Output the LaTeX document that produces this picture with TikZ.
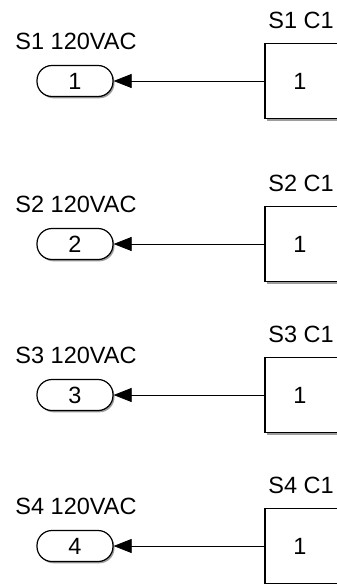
\documentclass[tikz,border=0pt]{standalone}
\usepackage{fontspec}
\setmainfont{Liberation Sans}
\usetikzlibrary{arrows.meta,shadows}
\begin{document}
\begin{tikzpicture}[x=1pt,y=1pt,
  font=\fontsize{23.5}{28}\selectfont,
  portpill/.style={draw=black, line width=1.2pt, fill=white, rounded corners=15pt,
    minimum width=76pt, minimum height=31pt, inner sep=0pt,
    drop shadow={shadow xshift=1.5pt, shadow yshift=-1.8pt, fill=black!55, opacity=0.7}},
  srcbox/.style={draw=black, line width=1.6pt, fill=white,
    minimum width=76pt, minimum height=75pt, inner sep=0pt,
    drop shadow={shadow xshift=1.5pt, shadow yshift=-2pt, fill=black!55, opacity=0.7}},
  wire/.style={line width=0.7pt, -{Triangle[length=18pt,width=14pt]}},
  lbl/.style={inner sep=0pt, anchor=center}]
\useasboundingbox (0,0) rectangle (337,-584);
\clip (0,0) rectangle (337,-584);
\foreach \i/\y in {1/81, 2/244, 3/395, 4/546}{
  % output port pill with its caption
  \node[portpill] (out\i) at (75,-\y) {\i};
  \node[lbl] (outlbl\i) at (76,-\y+40) {S\i\ 120VAC};
  % source block, cut off at the right edge, with its caption
  \node[srcbox] (src\i) at (303,-\y) {};
  \node[lbl] (srcnum\i) at (300,-\y) {1};
  \node[lbl] (srclbl\i) at (301,-\y+60.5) {S\i\ C1};
  % signal line
  \draw[wire] (src\i.west) -- (out\i.east);
}
\end{tikzpicture}
\end{document}
